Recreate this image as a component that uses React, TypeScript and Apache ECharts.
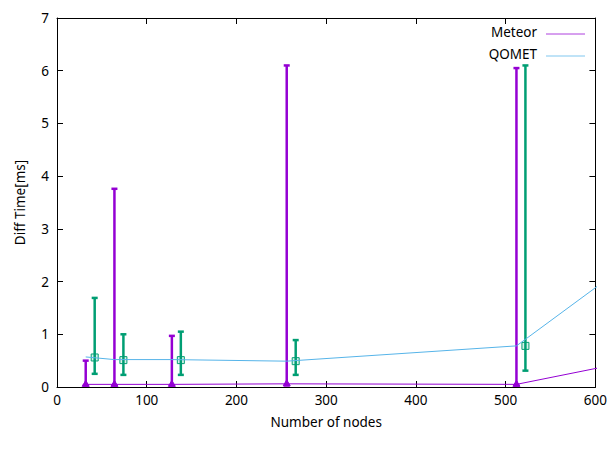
import { useEffect, useRef } from "react";
import * as echarts from "echarts";

// Node counts where each implementation was measured (line series continue past the axis edge)
const nodeCounts = [32, 64, 128, 256, 512, 1024];
const meteorLine = [0.05, 0.05, 0.05, 0.06, 0.05, 1.8];
const qometLine = [0.57, 0.52, 0.52, 0.49, 0.78, 7.2];

// Error bars: Meteor at the node counts, QOMET shifted by 10 nodes
const meteorBarX = [32, 64, 128, 256, 512];
const meteorBarMean = [0.05, 0.05, 0.05, 0.06, 0.05];
const meteorBarLow = [0.03, 0.03, 0.03, 0.03, 0.03];
const meteorBarHigh = [0.5, 3.76, 0.97, 6.1, 6.05];

const qometBarX = [42, 74, 138, 266, 522];
const qometBarMean = [0.56, 0.51, 0.51, 0.49, 0.78];
const qometBarLow = [0.25, 0.23, 0.23, 0.23, 0.31];
const qometBarHigh = [1.69, 1.0, 1.05, 0.89, 6.1];

const xTicks = [0, 100, 200, 300, 400, 500, 600];
const yTicks = [0, 1, 2, 3, 4, 5, 6, 7];
const legendNames = ["Meteor", "QOMET"];

const FONT = "Noto Sans";
const FS = 13.5;
const PURPLE = "#9400d3";
const GREEN = "#009e73";
const BLUE = "#56b4e9";

function zip4(a: number[], b: number[], c: number[], d: number[]) {
  return a.map((v, i) => [v, b[i], c[i], d[i]]);
}

function makeErrorRender(color: string, marker: "triangle" | "square") {
  return (params: any, api: any) => {
    const x = api.value(0);
    const mean = api.value(1);
    const lo = api.value(2);
    const hi = api.value(3);
    const pLo = api.coord([x, lo]);
    const pHi = api.coord([x, hi]);
    const pM = api.coord([x, mean]);
    const cap = 3;
    const lineStyle = { stroke: color, lineWidth: 2.5 };
    const children: any[] = [
      { type: "line", shape: { x1: pLo[0], y1: pLo[1], x2: pHi[0], y2: pHi[1] }, style: lineStyle },
      { type: "line", shape: { x1: pHi[0] - cap, y1: pHi[1], x2: pHi[0] + cap, y2: pHi[1] }, style: lineStyle },
      { type: "line", shape: { x1: pLo[0] - cap, y1: pLo[1], x2: pLo[0] + cap, y2: pLo[1] }, style: lineStyle },
    ];
    if (marker === "square") {
      children.push({
        type: "rect",
        shape: { x: pM[0] - 3.5, y: pM[1] - 3.5, width: 7, height: 7 },
        style: { fill: "rgba(0,158,115,0.15)", stroke: color, lineWidth: 1 },
      });
    } else {
      children.push({
        type: "polygon",
        shape: { points: [[pM[0], pM[1] - 4], [pM[0] - 3.5, pM[1] + 2], [pM[0] + 3.5, pM[1] + 2]] },
        style: { fill: color, stroke: color, lineWidth: 1 },
      });
    }
    return { type: "group", children };
  };
}

export default function App() {
  const ref = useRef<HTMLDivElement>(null);

  useEffect(() => {
    if (!ref.current) return;
    const chart = echarts.init(ref.current, null, { renderer: "svg" });

    const axisCommon = {
      type: "value" as const,
      axisLine: { show: true, onZero: false, lineStyle: { color: "#000", width: 1 } },
      axisTick: { show: true, inside: true, length: 6, lineStyle: { color: "#000" } },
      splitLine: { show: false },
    };

    const legendColors = [PURPLE, BLUE];
    const legendGraphic = legendNames.flatMap((name, i) => {
      const y = 34 + i * 22;
      return [
        {
          type: "text",
          right: 610 - 537,
          top: y - 9,
          style: { text: name, fontFamily: FONT, fontSize: FS, fill: "#000", textAlign: "right" },
        },
        {
          type: "line",
          shape: { x1: 546, y1: y, x2: 585, y2: y },
          style: { stroke: legendColors[i], lineWidth: 1, opacity: 0.75 },
        },
      ];
    });

    chart.setOption({
      animation: false,
      backgroundColor: "#fff",
      textStyle: { fontFamily: FONT },
      grid: { left: 57, right: 11, top: 18, bottom: 68 },
      graphic: legendGraphic,
      xAxis: [
        {
          ...axisCommon,
          position: "bottom",
          min: xTicks[0],
          max: xTicks[xTicks.length - 1],
          interval: 100,
          name: "Number of nodes",
          nameLocation: "middle",
          nameGap: 28,
          nameTextStyle: { fontFamily: FONT, fontSize: FS, color: "#000" },
          axisLabel: { fontFamily: FONT, fontSize: FS, color: "#000", margin: 6 },
        },
        {
          ...axisCommon,
          position: "top",
          min: xTicks[0],
          max: xTicks[xTicks.length - 1],
          interval: 100,
          axisLabel: { show: false },
        },
      ],
      yAxis: [
        {
          ...axisCommon,
          position: "left",
          min: yTicks[0],
          max: yTicks[yTicks.length - 1],
          interval: 1,
          name: "Diff Time[ms]",
          nameLocation: "middle",
          nameGap: 30,
          nameTextStyle: { fontFamily: FONT, fontSize: FS, color: "#000" },
          axisLabel: { fontFamily: FONT, fontSize: FS, color: "#000", margin: 8 },
        },
        {
          ...axisCommon,
          position: "right",
          min: yTicks[0],
          max: yTicks[yTicks.length - 1],
          interval: 1,
          axisLabel: { show: false },
        },
      ],
      series: [
        {
          name: "Meteor",
          type: "line",
          data: nodeCounts.map((n, i) => [n, meteorLine[i]]),
          showSymbol: false,
          clip: true,
          color: PURPLE,
          lineStyle: { color: PURPLE, width: 1 },
        },
        {
          name: "QOMET",
          type: "line",
          data: nodeCounts.map((n, i) => [n, qometLine[i]]),
          showSymbol: false,
          clip: true,
          color: BLUE,
          lineStyle: { color: BLUE, width: 1 },
        },
        {
          name: "Meteor error",
          type: "custom",
          renderItem: makeErrorRender(PURPLE, "triangle"),
          data: zip4(meteorBarX, meteorBarMean, meteorBarLow, meteorBarHigh),
          encode: { x: 0, y: [1, 2, 3] },
          z: 3,
        },
        {
          name: "QOMET error",
          type: "custom",
          renderItem: makeErrorRender(GREEN, "square"),
          data: zip4(qometBarX, qometBarMean, qometBarLow, qometBarHigh),
          encode: { x: 0, y: [1, 2, 3] },
          z: 3,
        },
      ],
    });

    return () => chart.dispose();
  }, []);

  return <div ref={ref} style={{ width: 610, height: 455, position: "fixed", left: 0, top: 0 }} />;
}
